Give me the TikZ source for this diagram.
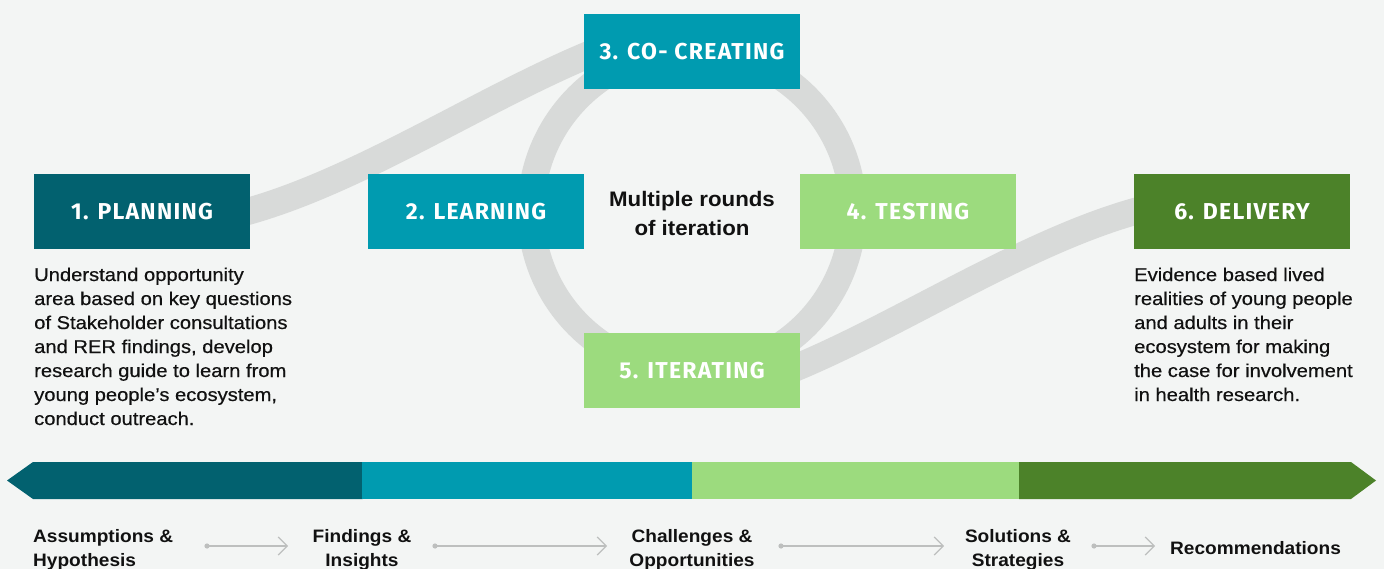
\documentclass[tikz,border=0pt]{standalone}
\usepackage{fontspec}
\setmainfont{Liberation Sans}
\newfontfamily\headfont[LetterSpace=5.5]{Fira Sans}
\newfontfamily\bodyfont[FakeStretch=1.09, FakeBold=0.5]{Liberation Sans}
\newfontfamily\labelfont[FakeStretch=1.06]{Liberation Sans}
\usetikzlibrary{arrows.meta}
\definecolor{bgc}{HTML}{F3F5F4}
\definecolor{bandc}{HTML}{D8DAD9}
\definecolor{darkteal}{HTML}{02616F}
\definecolor{tealc}{HTML}{009BB0}
\definecolor{lightgreen}{HTML}{9CDB7E}
\definecolor{darkgreen}{HTML}{4C8229}
\definecolor{textc}{HTML}{111111}
\definecolor{arrowc}{HTML}{BDBFBE}
\begin{document}
\begin{tikzpicture}[x=1pt,y=-1pt,
  band/.style={draw=bandc, line width=27pt},
  stagebox/.style={rectangle, minimum width=216pt, minimum height=75pt, inner sep=0pt,
    text=white, font=\headfont\bfseries\fontsize{23}{23}\selectfont, text height=16pt, text depth=0pt},
  body/.style={font=\bodyfont\fontsize{18.5}{24}\selectfont, align=left, inner sep=0pt, text=textc},
  centertext/.style={font=\labelfont\bfseries\fontsize{21}{29}\selectfont, align=center, inner sep=0pt, text=textc},
  steplabel/.style={font=\labelfont\bfseries\fontsize{18}{24}\selectfont, align=center, inner sep=0pt, text=textc},
  flowarrow/.style={draw=arrowc, line width=1.2pt, -{Straight Barb[length=9pt,width=18pt,line width=1.2pt]}},
  dotc/.style={fill=arrowc}
]
\fill[bgc] (0,0) rectangle (1384,569);
\useasboundingbox (0,0) rectangle (1384,569);

% bands
\coordinate (s1) at (230,216);
\coordinate (e1) at (600,50);
\coordinate (s2) at (784,372.5);
\coordinate (e2) at (1154,206.5);
\draw[band] (692,211) circle[radius=161];
\draw[band] (s1) .. controls (350,188) and (484,96) .. (e1);
\draw[band] (s2) .. controls (900,326.5) and (1034,234.5) .. (e2);

% stage boxes
\node[stagebox, fill=darkteal] (b1) at (142,211.5) {1. PLANNING};
\node[stagebox, fill=tealc] (b2) at (476,211.5) {2. LEARNING};
\node[stagebox, fill=tealc] (b3) at (692,51.5) {3. CO- CREATING};
\node[stagebox, fill=lightgreen] (b4) at (908,211.5) {4. TESTING};
\node[stagebox, fill=lightgreen] (b5) at (692,370.5) {5. ITERATING};
\node[stagebox, fill=darkgreen] (b6) at (1242,211.5) {6. DELIVERY};

% multi-line nodes: base anchor = last line baseline
\node[centertext, anchor=base] (mid) at (692,236) {Multiple rounds\\of iteration};

\node[body, anchor=base west] (t1) at (34,425) {Understand opportunity\\area based on key questions\\of Stakeholder consultations\\and RER findings, develop\\research guide to learn from\\young people’s ecosystem,\\conduct outreach.};
\node[body, anchor=base west] (t6) at (1134,401) {Evidence based lived\\realities of young people\\and adults in their\\ecosystem for making\\the case for involvement\\in health research.};

% bottom bar
\fill[darkteal] (7,480.5) -- (33,462) -- (362.5,462) -- (362.5,499) -- (33,499) -- cycle;
\fill[tealc] (362,462) rectangle (692.5,499);
\fill[lightgreen] (692,462) rectangle (1019.5,499);
\fill[darkgreen] (1019,462) -- (1351,462) -- (1376,480.5) -- (1351,499) -- (1019,499) -- cycle;

% bottom labels
\node[steplabel, align=left, anchor=base west] (l1) at (33,566) {Assumptions \&\\Hypothesis};
\node[steplabel, anchor=base] (l2) at (362,566) {Findings \&\\Insights};
\node[steplabel, anchor=base] (l3) at (692,566) {Challenges \&\\Opportunities};
\node[steplabel, anchor=base] (l4) at (1018,566) {Solutions \&\\Strategies};
\node[steplabel, anchor=base west] (l5) at (1170,554) {Recommendations};

% small arrows
\coordinate (a1s) at (207,546); \coordinate (a1e) at (288,546);
\coordinate (a2s) at (435,546); \coordinate (a2e) at (607,546);
\coordinate (a3s) at (781,546); \coordinate (a3e) at (944,546);
\coordinate (a4s) at (1094,546); \coordinate (a4e) at (1155,546);
\foreach \s/\e in {a1s/a1e,a2s/a2e,a3s/a3e,a4s/a4e}{
  \draw[flowarrow] (\s) -- (\e);
  \fill[dotc] (\s) circle[radius=2.6];
}
\end{tikzpicture}
\end{document}
